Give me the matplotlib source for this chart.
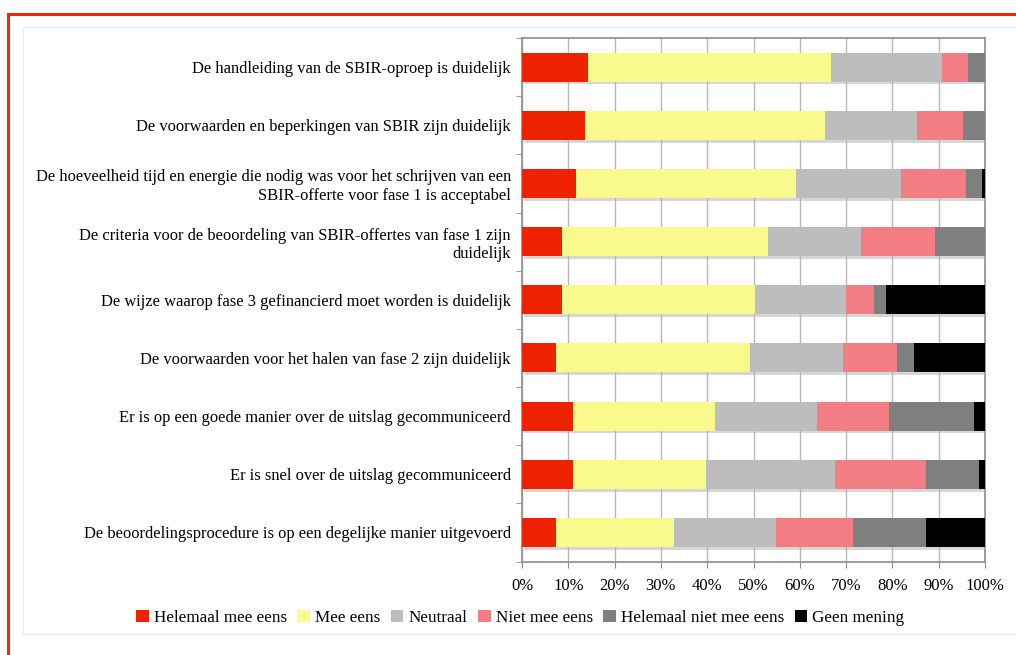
import numpy as np
import matplotlib
matplotlib.use('Agg')
import matplotlib.pyplot as plt
import matplotlib.patheffects as pe
from matplotlib.lines import Line2D
from matplotlib.patches import Rectangle, Patch
from matplotlib.ticker import FixedLocator, PercentFormatter

# DATA (percentages, top row first)
statements = [
    'De handleiding van de SBIR-oproep is duidelijk',
    'De voorwaarden en beperkingen van SBIR zijn duidelijk',
    'De hoeveelheid tijd en energie die nodig was voor het schrijven van een\nSBIR-offerte voor fase 1 is acceptabel',
    'De criteria voor de beoordeling van SBIR-offertes van fase 1 zijn\nduidelijk',
    'De wijze waarop fase 3 gefinancierd moet worden is duidelijk',
    'De voorwaarden voor het halen van fase 2 zijn duidelijk',
    'Er is op een goede manier over de uitslag gecommuniceerd',
    'Er is snel over de uitslag gecommuniceerd',
    'De beoordelingsprocedure is op een degelijke manier uitgevoerd',
]
answers = ['Helemaal mee eens', 'Mee eens', 'Neutraal', 'Niet mee eens',
           'Helemaal niet mee eens', 'Geen mening']

helemaal_eens = [14.2, 13.6, 11.6, 8.6, 8.7, 7.4, 11.0, 11.0, 7.4]
mee_eens      = [52.5, 51.9, 47.6, 44.5, 41.6, 41.8, 30.7, 28.7, 25.5]
neutraal      = [24.1, 19.9, 22.6, 20.2, 19.7, 20.2, 22.1, 27.9, 22.0]
niet_eens     = [5.6, 9.8, 14.0, 15.8, 6.1, 11.6, 15.5, 19.6, 16.5]
helemaal_niet = [3.6, 4.8, 3.6, 10.9, 2.5, 3.7, 18.3, 11.6, 15.9]
geen_mening   = [0.0, 0.0, 0.6, 0.0, 21.4, 15.3, 2.4, 1.2, 12.7]

series = [helemaal_eens, mee_eens, neutraal, niet_eens, helemaal_niet, geen_mening]
colors = ['#ee2200', '#fafa8c', '#bdbdbd', '#f27d82', '#7f7f7f', '#000000']

plt.rcParams['font.family'] = ['Liberation Serif', 'DejaVu Serif']

fig = plt.figure(figsize=(10.16, 6.55), dpi=100)

# red page border (top and left) and faint chart frame
fig.add_artist(Line2D([8/1016, 1], [1 - 14/655, 1 - 14/655], color='#f02a00', lw=2.2,
                      transform=fig.transFigure))
fig.add_artist(Line2D([8/1016, 8/1016], [0, 1 - 14/655], color='#f02a00', lw=2.2,
                      transform=fig.transFigure))
fig.add_artist(Rectangle((23/1016, 1 - 634/655), 1.0, 607/655, transform=fig.transFigure,
                         fill=False, ec='#ececec', lw=1))

ax = fig.add_axes([522/1016, 1 - 561.5/655, 463/1016, 523.5/655])

y = np.arange(len(statements))
left = np.zeros(len(statements))
shadow = [pe.SimplePatchShadow(offset=(1.5, -2), shadow_rgbFace='#b0b0b0', alpha=0.5), pe.Normal()]
for vals, col, name in zip(series, colors, answers):
    vals = np.array(vals)
    bars = ax.barh(y, vals, left=left, height=0.5, color=col, zorder=3)
    for b in bars:
        b.set_path_effects(shadow)
    left += vals

ax.set_xlim(0, 100)
ax.set_ylim(len(statements) - 0.5, -0.5)
ax.xaxis.set_major_locator(FixedLocator(np.arange(0, 101, 10)))
ax.xaxis.set_major_formatter(PercentFormatter(decimals=0))
ax.grid(axis='x', color='#b8b8b8', lw=1, zorder=0)

ax.set_yticks(y)
ax.set_yticklabels(statements, multialignment='right')
ax.yaxis.set_minor_locator(FixedLocator(np.arange(-0.5, len(statements), 1)))
ax.tick_params(axis='y', which='major', length=0, pad=8, labelsize=11.9)
ax.tick_params(axis='y', which='minor', length=4, color='#8c8c8c')
ax.tick_params(axis='x', length=4, color='#8c8c8c', labelsize=12, pad=8)
for s in ax.spines.values():
    s.set_color('#8c8c8c')
    s.set_linewidth(1.2)

handles = [Patch(facecolor=c, edgecolor='none') for c in colors]
fig.legend(handles, answers, loc='center', bbox_to_anchor=(0.512, 1 - 618/655), ncol=6,
           frameon=False, fontsize=12.3, handlelength=0.75, handleheight=0.75,
           handletextpad=0.3, columnspacing=0.6)

plt.savefig('out.png', dpi=100)
